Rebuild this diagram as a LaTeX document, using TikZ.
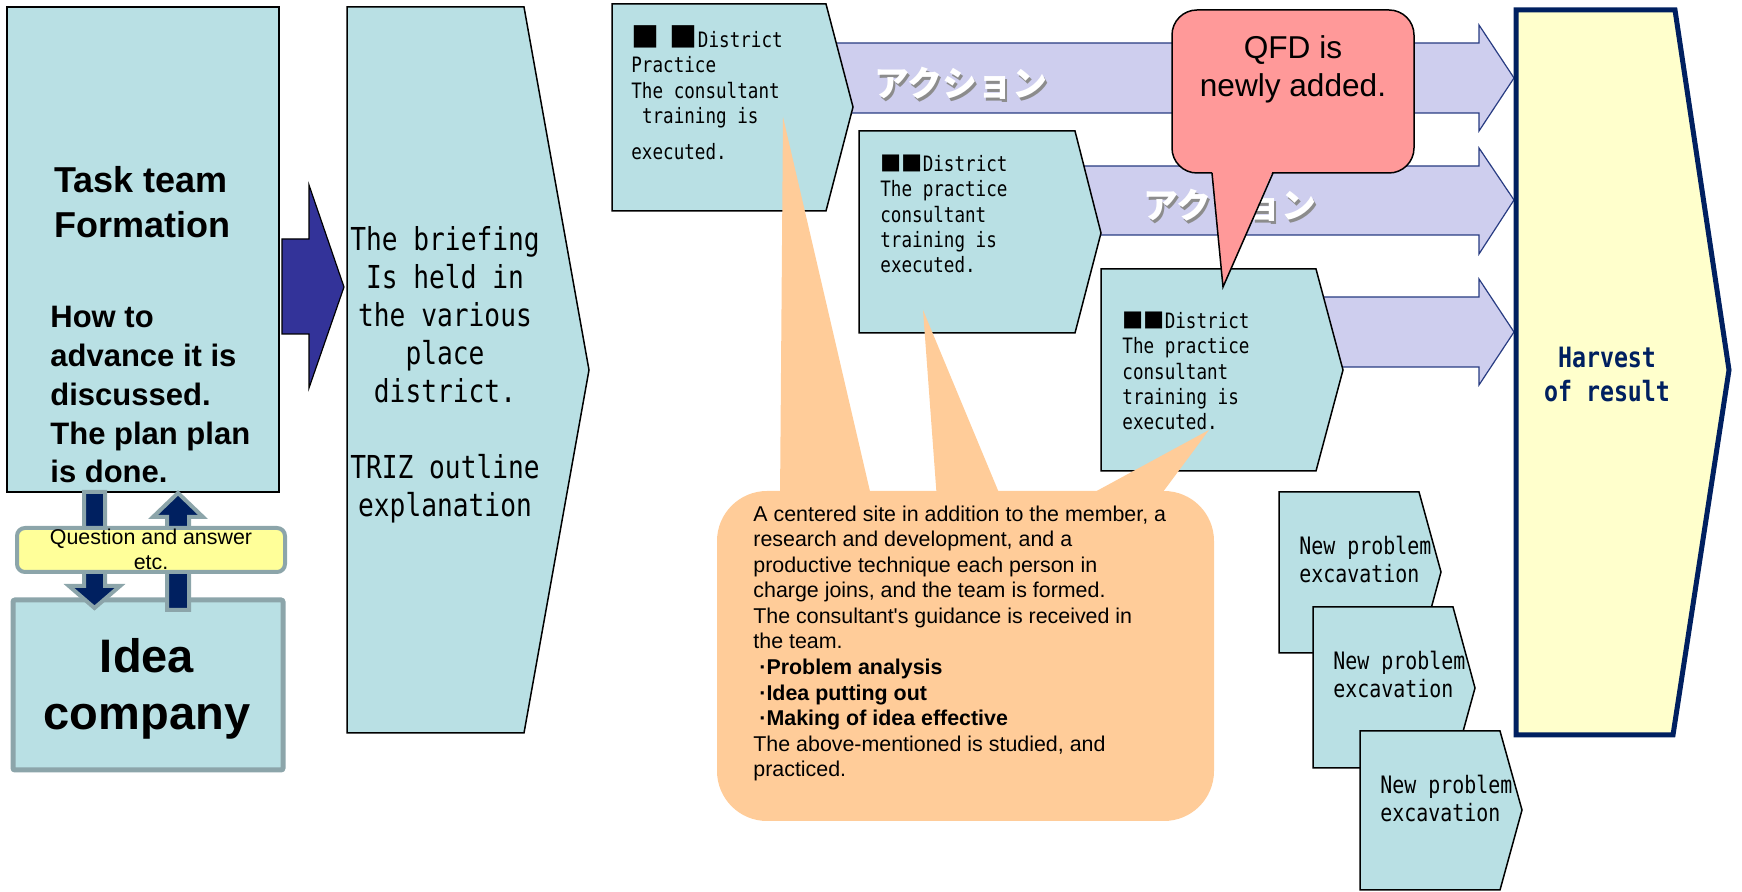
\documentclass[tikz,border=0pt]{standalone}
\usepackage{fontspec}
\setmainfont{Liberation Sans}
\newfontfamily\gothic[FakeStretch=0.83]{DejaVu Sans Mono}
\newfontfamily\cjk{Noto Sans CJK JP}
\newcommand{\sqmark}{{\cjk ■}}
\newcommand{\bigsq}{{\cjk\fontsize{14pt}{14pt}\selectfont ■}}

\definecolor{tealfill}{RGB}{185,224,228}
\definecolor{lavfill}{RGB}{206,206,238}
\definecolor{lavline}{RGB}{40,60,130}
\definecolor{darknavy}{RGB}{0,32,96}
\definecolor{graybd}{RGB}{140,165,170}
\definecolor{qayellow}{RGB}{255,255,153}
\definecolor{qfdpink}{RGB}{255,153,153}
\definecolor{peach}{RGB}{255,204,153}
\definecolor{harvfill}{RGB}{255,255,204}
\definecolor{blockblue}{RGB}{51,51,153}

\begin{document}
\begin{tikzpicture}[x=0.5pt,y=-0.5pt,
  tealbox/.style={fill=tealfill,draw=black,line width=0.75pt},
  lavarrow/.style={fill=lavfill,draw=lavline,line width=0.6pt},
  qaarrow/.style={fill=darknavy,draw=graybd,line width=2pt},
  boxtxt/.style={font=\gothic\fontsize{10.6pt}{12.7pt}\selectfont,align=left,anchor=base west,inner sep=0pt},
  nptxt/.style={font=\gothic\fontsize{12pt}{14pt}\selectfont,align=left,anchor=base west,inner sep=0pt},
  acttxt/.style={font=\cjk\bfseries\fontsize{17.5pt}{17.5pt}\selectfont,inner sep=0pt}]
  \useasboundingbox (0,0) rectangle (1742,892);

  % action arrows
  \draw[lavarrow] (820,43) -- (1479,43) -- (1479,25) -- (1514,78) -- (1479,131) -- (1479,113) -- (820,113);
  \draw[lavarrow] (1080,166) -- (1479,166) -- (1479,148) -- (1514,200) -- (1479,254) -- (1479,235) -- (1080,235);
  \draw[lavarrow] (1320,297) -- (1479,297) -- (1479,279) -- (1514,332) -- (1479,385) -- (1479,367) -- (1320,367);
  \node[acttxt,text=black!45] (act1s) at (963,86) {アクション};
  \node[acttxt,text=white] (act1) at (961,83) {アクション};
  \node[acttxt,text=black!45] (act2s) at (1232,208) {アクション};
  \node[acttxt,text=white] (act2) at (1230,205) {アクション};

  % task team and briefing (text nodes sit on their last baseline)
  \draw[tealbox] (7,7) rectangle (279,492);
  \node[font=\bfseries\fontsize{18pt}{22.5pt}\selectfont,align=left,anchor=base west,inner sep=0pt] (tasktxt) at (54,238) {Task team\\Formation};
  \node[font=\bfseries\fontsize{15.5pt}{19.4pt}\selectfont,align=left,anchor=base west,inner sep=0pt] (howtxt) at (50,483) {How to\\advance it is\\discussed.\\The plan plan\\is done.};
  \draw[fill=blockblue,draw=black,line width=0.6pt] (282,239) -- (309,239) -- (309,185) -- (344,287) -- (309,388) -- (309,334) -- (282,334) -- cycle;
  \draw[tealbox] (347,7) -- (524,7) -- (589,370) -- (524,733) -- (347,733) -- cycle;
  \node[font=\gothic\fontsize{15.8pt}{19pt}\selectfont,align=center,anchor=base,inner sep=0pt] (brieftxt) at (445,517) {The briefing\\Is held in\\the various\\place\\district.\\[19pt]TRIZ outline\\explanation};

  % idea company
  \draw[fill=tealfill,draw=graybd,line width=2.5pt,rounded corners=1pt] (13,600) rectangle (283,770);
  \node[font=\bfseries\fontsize{23.5pt}{28.5pt}\selectfont,align=center,anchor=base,inner sep=0pt] (ideatxt) at (147,730) {Idea\\company};
  \draw[qaarrow] (84,492) -- (105,492) -- (105,586) -- (120,586) -- (94.5,608) -- (69,586) -- (84,586) -- cycle;
  \draw[qaarrow] (167,610) -- (189,610) -- (189,517) -- (203,517) -- (178,493) -- (153,517) -- (167,517) -- cycle;
  \draw[fill=qayellow,draw=graybd,line width=2pt,rounded corners=4pt] (17,528) rectangle (285,572);
  \node[font=\fontsize{10.7pt}{12.5pt}\selectfont,align=center,anchor=base,inner sep=0pt] (qatxt) at (151,570) {Question and answer\\etc.};

  % district boxes
  \draw[tealbox] (612,4) -- (826,4) -- (853,107) -- (826,211) -- (612,211) -- cycle;
  \node[boxtxt] (d1txt) at (631,160) {\bigsq~\bigsq District\\Practice\\The consultant\\\hspace*{5.3pt}training is\\[5.5pt]executed.};
  \draw[tealbox] (859,131) -- (1075,131) -- (1101,233) -- (1075,333) -- (859,333) -- cycle;
  \node[boxtxt] (d2txt) at (880,273) {\sqmark\sqmark District\\The practice\\consultant\\training is\\executed.};
  \draw[tealbox] (1101,269) -- (1316,269) -- (1343,370) -- (1316,471) -- (1101,471) -- cycle;
  \node[boxtxt] (d3txt) at (1122,430) {\sqmark\sqmark District\\The practice\\consultant\\training is\\executed.};

  % QFD bubble
  \draw[fill=qfdpink,draw=black,line width=0.75pt,rounded corners=12.5pt] (1172,10) rectangle (1414,173);
  \fill[qfdpink] (1212,170) -- (1223,287) -- (1273,170) -- cycle;
  \draw[line width=0.75pt] (1212,173) -- (1223,287) -- (1273,173);
  \node[font=\fontsize{15.8pt}{19pt}\selectfont,align=center,anchor=base,inner sep=0pt] (qfdtxt) at (1293,97) {QFD is\\newly added.};

  % note callout
  \fill[peach,rounded corners=25pt] (717,491) rectangle (1214,821);
  \fill[peach] (780,500) -- (783,117) -- (872,500) -- cycle;
  \fill[peach] (937,500) -- (923,310) -- (1002,500) -- cycle;
  \fill[peach] (1080,500) -- (1209,430) -- (1157,500) -- cycle;
  \node[font=\fontsize{10.7pt}{12.8pt}\selectfont,align=left,anchor=base west,inner sep=0pt] (notetxt) at (753,777) {A centered site in addition to the member, a\\research and development, and a\\productive technique each person in\\charge joins, and the team is formed.\\The consultant\textquotesingle s guidance is received in\\the team.\\\textbf{\hspace*{3pt}·Problem analysis}\\\textbf{\hspace*{3pt}·Idea putting out}\\\textbf{\hspace*{3pt}·Making of idea effective}\\The above-mentioned is studied, and\\practiced.};

  % new problems
  \draw[tealbox] (1279,492) -- (1419,492) -- (1441,572) -- (1419,653) -- (1279,653) -- cycle;
  \node[nptxt] (np1txt) at (1299,583) {New problem\\excavation};
  \draw[tealbox] (1313,607) -- (1453,607) -- (1475,688) -- (1453,768) -- (1313,768) -- cycle;
  \node[nptxt] (np2txt) at (1333,698) {New problem\\excavation};
  \draw[tealbox] (1360,731) -- (1500,731) -- (1522,810) -- (1500,890) -- (1360,890) -- cycle;
  \node[nptxt] (np3txt) at (1380,822) {New problem\\excavation};

  % harvest
  \draw[fill=harvfill,draw=darknavy,line width=2.5pt] (1516,10) -- (1675,10) -- (1729,370) -- (1673,735) -- (1516,735) -- cycle;
  \node[font=\gothic\bfseries\fontsize{14pt}{17pt}\selectfont,text=darknavy,align=center,anchor=base,inner sep=0pt] (harvtxt) at (1607,402) {Harvest\\of result};
\end{tikzpicture}
\end{document}
